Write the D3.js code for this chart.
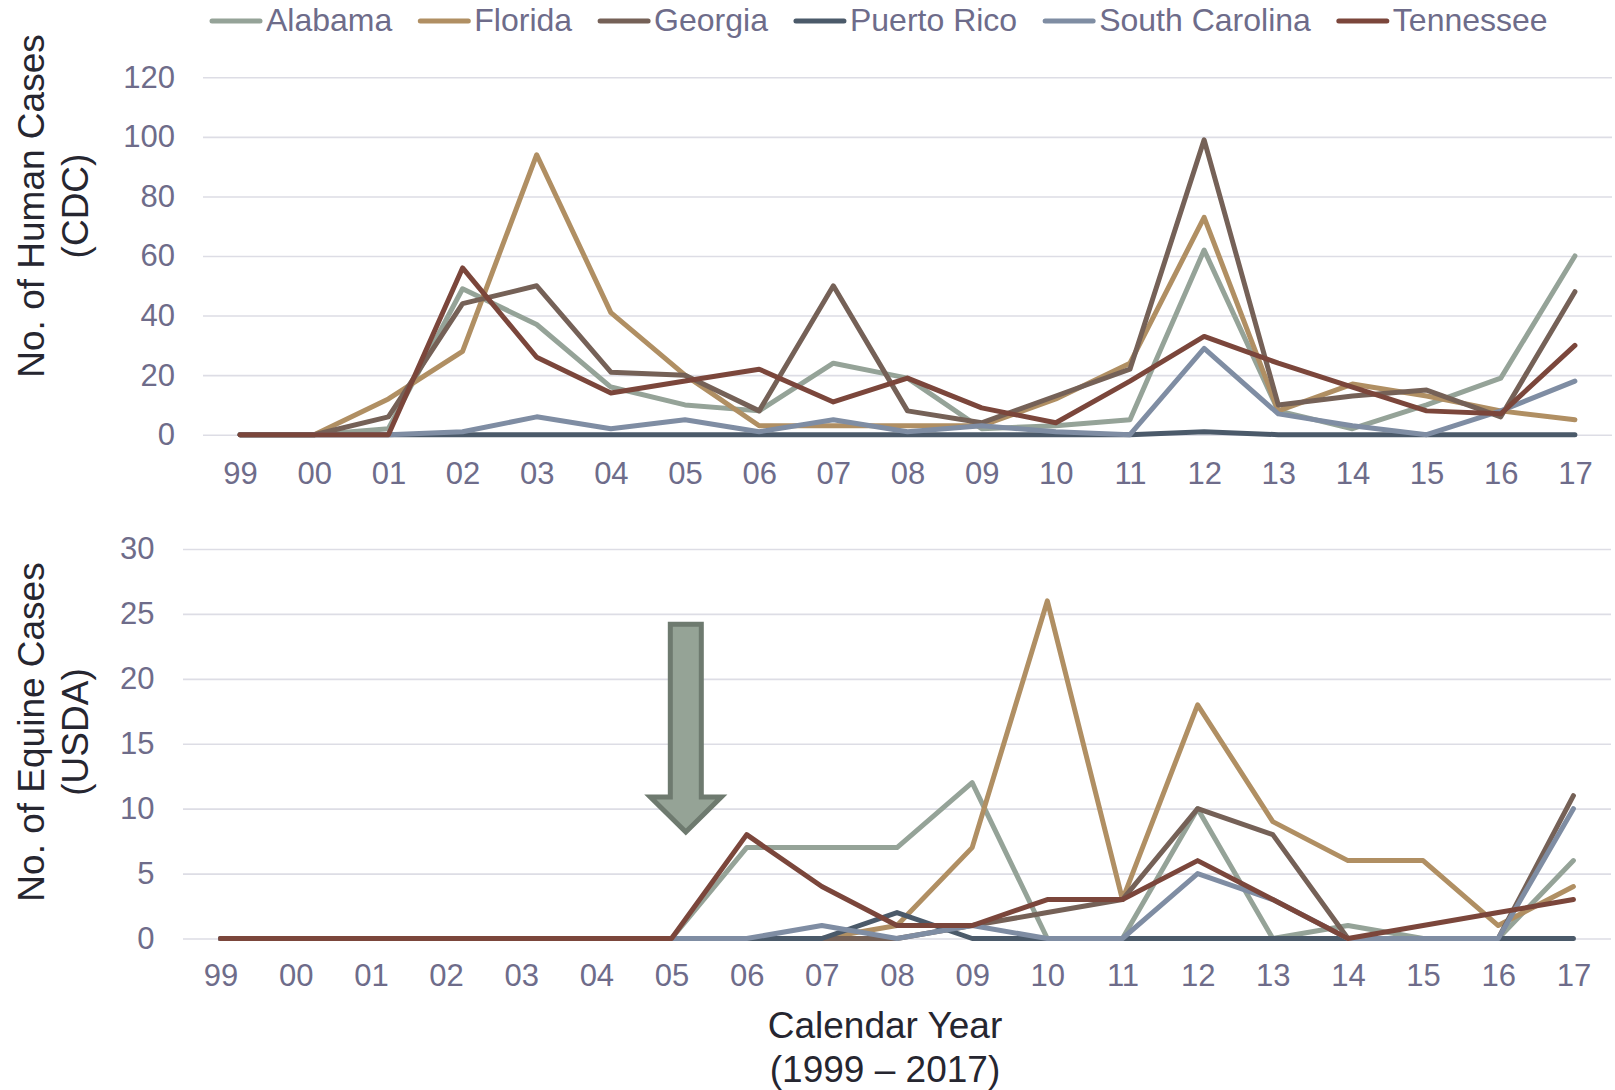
<!DOCTYPE html>
<html>
<head>
<meta charset="utf-8">
<script src="https://cdn.jsdelivr.net/npm/d3@7"></script>
<style>
  body { margin: 0; background: #fff; }
  svg text { font-family: "Liberation Sans", Arial, sans-serif; }
</style>
</head>
<body>
<svg id="chart" width="1615" height="1090"></svg>
<script>
// years shown on both x axes
const years = ["99","00","01","02","03","04","05","06","07","08","09","10","11","12","13","14","15","16","17"];
const states = ["Alabama","Florida","Georgia","Puerto Rico","South Carolina","Tennessee"];
const colors = ["#95a398","#b08f63","#756157","#4b5a6a","#7f8da3","#7b463b"];

// human cases (CDC)
const humanAlabama   = [0,0,2,49,37,16,10,8,24,19,2,3,5,62,8,2,10,19,60];
const humanFlorida   = [0,0,12,28,94,41,20,3,3,3,3,12,24,73,8,17,13,8,5];
const humanGeorgia   = [0,0,6,44,50,21,20,8,50,8,4,13,22,99,10,13,15,6,48];
const humanPuerto    = [0,0,0,0,0,0,0,0,0,0,0,0,0,1,0,0,0,0,0];
const humanSouthCar  = [0,0,0,1,6,2,5,1,5,1,3,1,0,29,7,3,0,8,18];
const humanTennessee = [0,0,0,56,26,14,18,22,11,19,9,4,18,33,24,16,8,7,30];

// equine cases (USDA)
const equineAlabama   = [0,0,0,0,0,0,0,7,7,7,12,0,0,10,0,1,0,0,6];
const equineFlorida   = [0,0,0,0,0,0,0,0,0,1,7,26,3,18,9,6,6,1,4];
const equineGeorgia   = [0,0,0,0,0,0,0,0,0,0,1,2,3,10,8,0,0,0,11];
const equinePuerto    = [0,0,0,0,0,0,0,0,0,2,0,0,0,0,0,0,0,0,0];
const equineSouthCar  = [0,0,0,0,0,0,0,0,1,0,1,0,0,5,3,0,0,0,10];
const equineTennessee = [0,0,0,0,0,0,0,8,4,1,1,3,3,6,3,0,1,2,3];

const humanTicks = [0,20,40,60,80,100,120];
const equineTicks = [0,5,10,15,20,25,30];

const humanSeries = [humanAlabama, humanFlorida, humanGeorgia, humanPuerto, humanSouthCar, humanTennessee];
const equineSeries = [equineAlabama, equineFlorida, equineGeorgia, equinePuerto, equineSouthCar, equineTennessee];

const svg = d3.select("#chart");
const tickColor = "#6e6c8a";
const titleColor = "#262630";

function drawPanel(cfg) {
    const x = d3.scalePoint().domain(years).range([cfg.left, cfg.right]).padding(0.5);
    const y = d3.scaleLinear().domain([0, cfg.max]).range([cfg.bottom, cfg.top]);

    // gridlines + y labels
    const ya = svg.append("g")
        .attr("transform", `translate(${cfg.left},0)`)
        .call(d3.axisLeft(y).tickValues(cfg.ticks).tickSize(-(cfg.right - cfg.left)).tickPadding(cfg.yPad));
    ya.select(".domain").remove();
    ya.selectAll("line").attr("stroke", "#dddde5").attr("stroke-width", 1.6);
    ya.selectAll("text").attr("fill", tickColor).style("font-size", "31px");

    const xa = svg.append("g")
        .attr("transform", `translate(0,${cfg.bottom})`)
        .call(d3.axisBottom(x).tickSize(0).tickPadding(cfg.xPad));
    xa.select(".domain").remove();
    xa.selectAll("text").attr("fill", tickColor).style("font-size", "31px");

    const line = d3.line().x((d, i) => x(years[i])).y(d => y(d));
    cfg.series.forEach((vals, k) => {
        svg.append("path")
            .datum(vals)
            .attr("d", line)
            .attr("fill", "none")
            .attr("stroke", colors[k])
            .attr("stroke-width", 5)
            .attr("stroke-linejoin", "round")
            .attr("stroke-linecap", "round");
    });

    // rotated two-line axis title
    const t = svg.append("text")
        .attr("transform", `translate(31,${cfg.titleY}) rotate(-90)`)
        .attr("text-anchor", "middle")
        .attr("fill", titleColor)
        .style("font-size", "37px");
    t.append("tspan").attr("x", 0).attr("dy", "0.35em").text(cfg.title[0]);
    t.append("tspan").attr("x", 0).attr("dy", "1.2em").text(cfg.title[1]);

    return { x, y };
}

drawPanel({ left: 203, right: 1612, top: 77.3, bottom: 434.7, max: 120, ticks: humanTicks,
    yPad: 28, xPad: 27, series: humanSeries, title: ["No. of Human Cases", "(CDC)"], titleY: 206 });

const eq = drawPanel({ left: 183, right: 1611, top: 549, bottom: 938.5, max: 30, ticks: equineTicks,
    yPad: 28.5, xPad: 25, series: equineSeries, title: ["No. of Equine Cases", "(USDA)"], titleY: 732 });

// down arrow annotation near 2005
const step = eq.x.step();
const ax = eq.x("05") + step * 0.19;
const shaftW = 31, headW = 71;
const yTop = eq.y(24.2), yBase = eq.y(10.9), yTip = eq.y(8.2);
svg.append("path")
    .attr("d", `M${ax - shaftW / 2},${yTop} L${ax + shaftW / 2},${yTop} L${ax + shaftW / 2},${yBase}
        L${ax + headW / 2},${yBase} L${ax},${yTip} L${ax - headW / 2},${yBase} L${ax - shaftW / 2},${yBase} Z`)
    .attr("fill", "#95a396")
    .attr("stroke", "#6e7a6f")
    .attr("stroke-width", 5);

// x axis title
svg.append("text").attr("x", 885).attr("y", 1025).attr("dy", "0.35em")
    .attr("text-anchor", "middle").attr("fill", titleColor).style("font-size", "37px")
    .text("Calendar Year");
svg.append("text").attr("x", 885).attr("y", 1069).attr("dy", "0.35em")
    .attr("text-anchor", "middle").attr("fill", titleColor).style("font-size", "37px")
    .text("(1999 \u2013 2017)");

// legend
let lx = 209;
const legend = svg.append("g");
states.forEach((s, i) => {
    legend.append("line")
        .attr("x1", lx + 3).attr("x2", lx + 51).attr("y1", 21).attr("y2", 21)
        .attr("stroke", colors[i]).attr("stroke-width", 5).attr("stroke-linecap", "round");
    const txt = legend.append("text")
        .attr("x", lx + 57).attr("y", 20).attr("dy", "0.35em")
        .attr("fill", tickColor).style("font-size", "32px")
        .text(s);
    lx = lx + 57 + txt.node().getComputedTextLength() + 25;
});
</script>
</body>
</html>
